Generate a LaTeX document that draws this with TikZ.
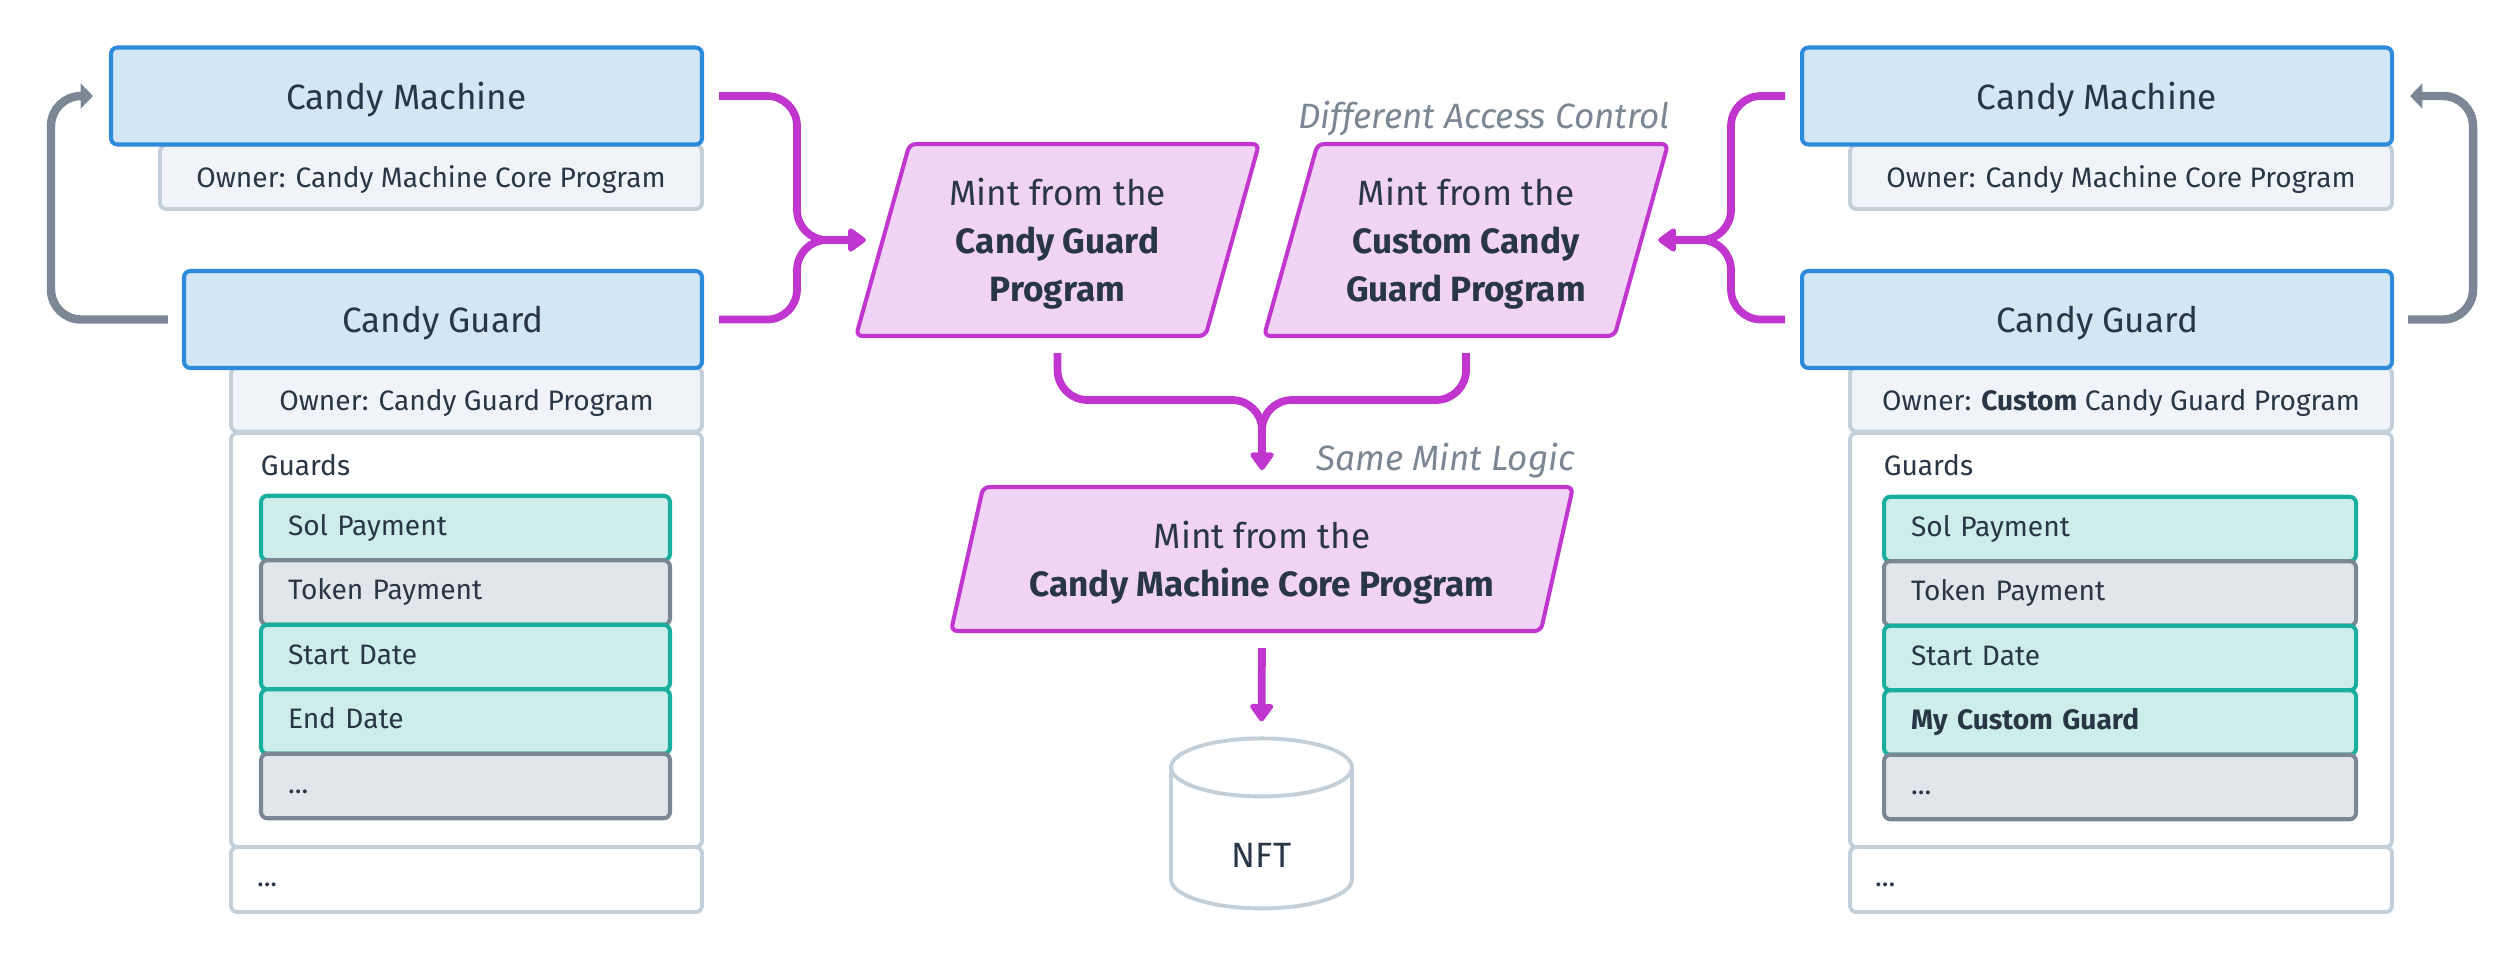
\documentclass[tikz,border=0pt]{standalone}
\usepackage{fontspec}
\setmainfont{Fira Sans}
\usepackage{tikz}
\usetikzlibrary{shapes.geometric,arrows.meta,positioning,calc}

\definecolor{ink}{HTML}{283645}
\definecolor{acctline}{HTML}{2E8BDB}
\definecolor{acctfill}{HTML}{D3E6F6}
\definecolor{ownline}{HTML}{C3CFD9}
\definecolor{ownfill}{HTML}{F0F4F8}
\definecolor{online}{HTML}{1AAE9F}
\definecolor{onfill}{HTML}{CDEDEB}
\definecolor{offline}{HTML}{7B8794}
\definecolor{offfill}{HTML}{E1E6EA}
\definecolor{mintline}{HTML}{C036CF}
\definecolor{mintfill}{HTML}{F1D3F5}
\definecolor{notegray}{HTML}{7B8794}

\tikzset{
  acct/.style={rectangle, draw=acctline, fill=acctfill, line width=1.15pt, rounded corners=1.8pt, text=ink, font=\fontsize{10}{12}\selectfont, minimum height=0.97cm, text depth=0pt},
  owner/.style={rectangle, draw=ownline, fill=ownfill, line width=1.1pt, rounded corners=1.8pt, text=ink, font=\fontsize{8}{10}\selectfont, minimum height=0.64cm, text depth=0pt},
  panel/.style={rectangle, draw=ownline, fill=white, line width=1.1pt, rounded corners=1.8pt, text=ink, font=\fontsize{8}{10}\selectfont, align=left, text height=6pt, text depth=2pt},
  guardon/.style={rectangle, draw=online, fill=onfill, line width=1.15pt, rounded corners=1.8pt, text=ink, font=\fontsize{8}{10}\selectfont, align=left, inner xsep=0.27cm, minimum height=0.645cm, text height=6pt, text depth=2pt},
  guardoff/.style={guardon, draw=offline, fill=offfill},
  mint/.style={trapezium, trapezium left angle=70, trapezium right angle=110, trapezium stretches body, draw=mintline, fill=mintfill, line width=1.15pt, rounded corners=1.8pt, text=ink, align=center, font=\fontsize{10}{13.7}\selectfont, text depth=0pt},
  note/.style={text=notegray, inner sep=0pt, font=\fontsize{10}{12}\selectfont\itshape},
  flow/.style={draw=mintline, line width=2.2pt, rounded corners=0.3cm, -{Triangle[length=5.5pt,width=7.5pt,round]}, shorten <=0.15cm, shorten >=0.15cm},
  loopback/.style={draw=offline, line width=2.4pt, rounded corners=0.3cm, -{Triangle[length=3.5pt,width=7pt]}, shorten <=0.14cm, shorten >=0.16cm}
}

\begin{document}
\begin{tikzpicture}
\useasboundingbox (0,0) rectangle (25.2,9.6);

\node[owner, minimum width=5.42cm] (ownCmL) at (4.31,7.83) {Owner: Candy Machine Core Program};
\node[acct, minimum width=5.91cm] (cmL) at (4.065,8.64) {Candy Machine};
\node[panel, minimum width=4.71cm, minimum height=4.14cm] (guardsL) at (4.665,3.2) {};
\node[panel, minimum width=4.71cm, minimum height=0.65cm, text width=4.19cm, inner xsep=0.26cm] (moreL) at (4.665,0.805) {...};
\node[owner, minimum width=4.71cm] (ownCgL) at (4.665,5.605) {Owner: Candy Guard Program};
\node[acct, minimum width=5.18cm] (cgL) at (4.43,6.405) {Candy Guard};
\node[text=ink, font=\fontsize{8}{10}\selectfont, anchor=west, inner sep=0pt] (guardsLabelL) at ([xshift=0.31cm, yshift=-0.34cm]guardsL.north west) {Guards};
\node[guardon, text width=3.55cm] (solL) at (4.655,4.32) {Sol Payment};
\node[guardoff, text width=3.55cm] (tokenL) at (4.655,3.675) {Token Payment};
\node[guardon, text width=3.55cm] (startL) at (4.655,3.03) {Start Date};
\node[guardon, text width=3.55cm] (endL) at (4.655,2.385) {End Date};
\node[guardoff, text width=3.55cm] (etcL) at (4.655,1.74) {...};

\node[owner, minimum width=5.42cm] (ownCmR) at (21.21,7.83) {Owner: Candy Machine Core Program};
\node[acct, minimum width=5.90cm] (cmR) at (20.97,8.64) {Candy Machine};
\node[panel, minimum width=5.42cm, minimum height=4.14cm] (guardsR) at (21.21,3.2) {};
\node[panel, minimum width=5.42cm, minimum height=0.65cm, text width=4.92cm, inner xsep=0.25cm] (moreR) at (21.21,0.805) {...};
\node[owner, minimum width=5.42cm] (ownCgR) at (21.21,5.605) {Owner: \textbf{Custom} Candy Guard Program};
\node[acct, minimum width=5.90cm] (cgR) at (20.97,6.405) {Candy Guard};
\node[text=ink, font=\fontsize{8}{10}\selectfont, anchor=west, inner sep=0pt] (guardsLabelR) at ([xshift=0.35cm, yshift=-0.34cm]guardsR.north west) {Guards};
\node[guardon, text width=4.18cm] (solR) at (21.20,4.31) {Sol Payment};
\node[guardoff, text width=4.18cm] (tokenR) at (21.20,3.665) {Token Payment};
\node[guardon, text width=4.18cm] (startR) at (21.20,3.02) {Start Date};
\node[guardon, text width=4.18cm] (customR) at (21.20,2.375) {\textbf{My Custom Guard}};
\node[guardoff, text width=4.18cm] (etcR) at (21.20,1.73) {...};

\node[mint, minimum width=4.03cm, minimum height=1.92cm] (mintA) at (10.575,7.2) {Mint from the\\\textbf{Candy Guard}\\\textbf{Program}};
\node[mint, minimum width=4.04cm, minimum height=1.92cm] (mintB) at (14.66,7.2) {Mint from the\\\textbf{Custom Candy}\\\textbf{Guard Program}};
\node[mint, trapezium left angle=72, trapezium right angle=108, minimum width=6.22cm, minimum height=1.44cm] (mintC) at (12.62,4.01) {Mint from the\\\textbf{Candy Machine Core Program}};
\node[note, anchor=base east] (accessNote) at ([yshift=0.13cm]mintB.top right corner) {Different Access Control};
\node[note, anchor=base east] (logicNote) at ([yshift=0.14cm]mintC.top right corner) {Same Mint Logic};
\node[cylinder, shape border rotate=90, aspect=0.7, draw=ownline, fill=white, line width=1.1pt, minimum width=1.81cm, minimum height=1.70cm, text=ink, font=\fontsize{10}{12}\selectfont, text height=12pt, text depth=0pt] (nft) at (12.615,1.14) {NFT};

\coordinate (jL) at (7.97,7.2);
\coordinate (jR) at (17.31,7.2);
\coordinate (jM) at (12.62,5.6);
\coordinate (lpL) at (0.51,7.5);
\coordinate (lpR) at (24.73,7.5);

\draw[loopback] (cgL.west) -| (lpL) |- (cmL.west);
\draw[loopback] (cgR.east) -| (lpR) |- (cmR.east);
\draw[flow] (cmL.east) -| (jL) -- (mintA.left side);
\draw[flow] (cgL.east) -| (jL) -- (mintA.left side);
\draw[flow] (cmR.west) -| (jR) -- (mintB.right side);
\draw[flow] (cgR.west) -| (jR) -- (mintB.right side);
\draw[flow] (mintA.south) |- (jM) -- (mintC.north);
\draw[flow] (mintB.south) |- (jM) -- (mintC.north);
\draw[flow] (mintC.south) -- (nft.north);
\end{tikzpicture}
\end{document}
